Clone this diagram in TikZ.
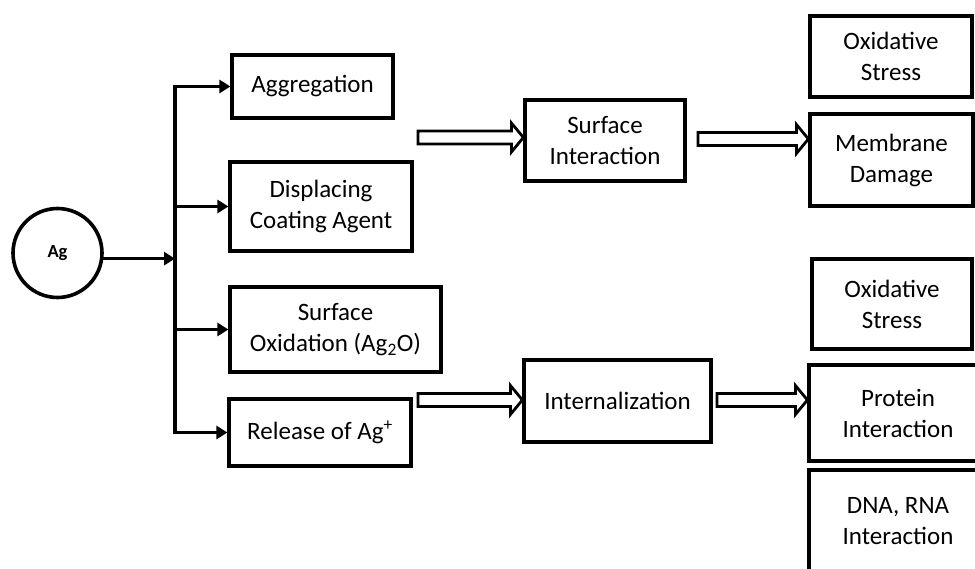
\documentclass[tikz,border=0pt]{standalone}
\usepackage{fontspec}
\setmainfont{Carlito}
\usetikzlibrary{arrows.meta,calc}
\newcommand\hollowarr[2]{\draw[hollow] let \p1=(#1), \p2=(#2) in (\x1,\y1+6.5pt) -- (\x2-12pt,\y1+6.5pt) -- (\x2-12pt,\y1+14.5pt) -- (\x2,\y1) -- (\x2-12pt,\y1-14.5pt) -- (\x2-12pt,\y1-6.5pt) -- (\x1,\y1-6.5pt) -- cycle;}
\begin{document}
\begin{tikzpicture}[x=1pt,y=-1pt,
  box/.style={draw, line width=3.2pt, align=center, inner sep=0pt, font=\fontsize{25}{31}\selectfont},
  conn/.style={line width=3.2pt, -{Triangle[length=11pt,width=13pt]}},
  hollow/.style={draw, line width=2.8pt, fill=white, line join=miter}]
\clip (0,0) rectangle (975,569);
\fill[white] (0,0) rectangle (975,569);
% source
\node[circle, draw, line width=3.6pt, minimum size=89pt, inner sep=0pt, font=\bfseries\fontsize{18.5}{22}\selectfont] (ag) at (57.5,253) {Ag};
% first column
\node[box, minimum width=161pt, minimum height=63pt] (agg) at (312.5,86.5) {Aggregation};
\node[box, minimum width=182pt, minimum height=89pt] (disp) at (321,206.5) {Displacing\\Coating Agent};
\node[box, minimum width=211pt, minimum height=85pt] (oxid) at (335.5,329.5) {Surface\\Oxidation (Ag\textsubscript{2}O)};
\node[box, minimum width=182pt, minimum height=67pt] (rel) at (320,432.5) {Release of Ag\textsuperscript{+}};
% middle column
\node[box, minimum width=160pt, minimum height=81pt] (surf) at (605,140.5) {Surface\\Interaction};
\node[box, minimum width=187pt, minimum height=82pt] (intern) at (617.5,401) {Internalization};
% right column
\node[box, minimum width=162pt, minimum height=81pt] (ox1) at (891,56.5) {Oxidative\\Stress};
\node[box, minimum width=163pt, minimum height=92pt] (memb) at (891.5,160) {Membrane\\Damage};
\node[box, minimum width=160pt, minimum height=90pt] (ox2) at (892,304) {Oxidative\\Stress};
\node[box, minimum width=178pt, minimum height=96pt] (prot) at (898,413) {Protein\\Interaction};
\node[box, minimum width=178pt, minimum height=102pt] (dna) at (898,521) {DNA, RNA\\Interaction};
% branching connectors
\coordinate (spx) at (175,0);
\draw[line width=3.2pt, line cap=rect] (agg.west -| spx) -- (rel.west -| spx);
\foreach \n in {agg,disp,oxid,rel} \draw[conn] (\n.west -| spx) -- (\n.west);
\draw[conn] (ag.-7.5) -- (ag.-7.5 -| spx);
% hollow arrows
\coordinate (h1) at (418,137.5);
\coordinate (h2) at (698,139);
\coordinate (h3) at (418,400);
\coordinate (h4) at (717,400);
\hollowarr{h1}{surf.west}
\hollowarr{h2}{memb.west}
\hollowarr{h3}{intern.west}
\hollowarr{h4}{prot.west}
\end{tikzpicture}
\end{document}
